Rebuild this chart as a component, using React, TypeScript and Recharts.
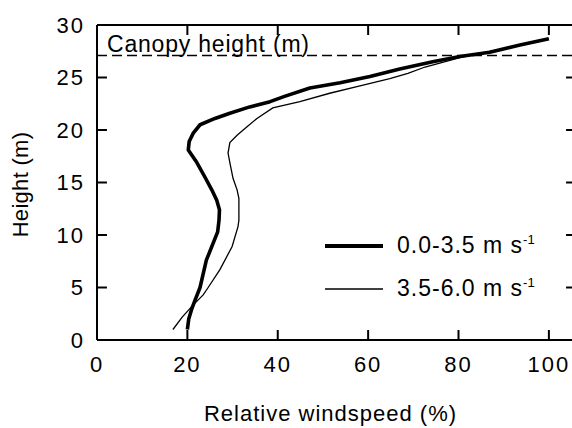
import React from 'react';
import { LineChart, Line, XAxis, YAxis, ReferenceLine, Legend } from 'recharts';

const FONT = '"Liberation Sans", Arial, sans-serif';

// profile for calm conditions (0.0-3.5 m/s)
const thickSpeed = [20.0, 20.3, 21.0, 21.7, 22.8, 24.2, 26.7, 27.0, 27.1, 26.5, 25.4, 23.9, 22.1, 20.2, 20.4, 21.3, 22.8, 26.1, 29.4, 33.8, 38.3, 41.5, 47.1, 53.8, 60.4, 67.0, 74.3, 80.3, 86.9, 93.6, 100];
const thickHeight = [1.0, 2.0, 3.0, 3.8, 5.0, 7.6, 10.3, 11.4, 12.4, 13.3, 14.3, 15.5, 16.9, 18.1, 18.9, 19.7, 20.5, 21.1, 21.6, 22.2, 22.7, 23.2, 24.0, 24.5, 25.1, 25.8, 26.5, 27.0, 27.4, 28.1, 28.7];

// profile for windier conditions (3.5-6.0 m/s)
const thinSpeed = [16.8, 18.9, 21.2, 23.5, 24.6, 27.2, 29.9, 31.2, 31.4, 31.4, 31.4, 31.0, 30.1, 29.4, 29.0, 29.4, 31.0, 33.2, 35.4, 38.9, 44.9, 51.5, 58.2, 64.8, 68.8, 72.6, 80.3, 84.7, 93.0, 99.0];
const thinHeight = [1.0, 2.2, 3.3, 4.3, 5.0, 6.7, 8.9, 10.8, 11.4, 12.4, 13.5, 14.3, 15.4, 16.9, 17.8, 18.8, 19.5, 20.3, 21.1, 22.1, 22.7, 23.5, 24.2, 24.9, 25.4, 26.0, 26.9, 27.3, 28.0, 28.6];

const xTicks = [0, 20, 40, 60, 80, 100];
const yTicks = [0, 5, 10, 15, 20, 25, 30];
const canopyHeight = 27.1;
const seriesNames = ['0.0-3.5', '3.5-6.0'];
const seriesWidths = [3.6, 1.3];

const X_MAX = 106;
const Y_MAX = 30;
// inward tick length, in axis units (about 10px each way)
const TICK_DX = 2.2;
const TICK_DY = 0.95;

const toRows = (speed: number[], height: number[]) =>
  speed.map((s, i) => ({ speed: s, height: height[i] }));

const thickData = toRows(thickSpeed, thickHeight);
const thinData = toRows(thinSpeed, thinHeight);

const tickStyle = { fill: '#000', fontSize: 22, fontFamily: FONT, letterSpacing: 2 };
const axisStyle = { stroke: '#000', strokeWidth: 2 };

// inward tick marks on all four sides of the frame, as tiny two-point series
const frameTicks = [
  ...xTicks.map((v) => toRows([v, v], [0, TICK_DY])),
  ...xTicks.map((v) => toRows([v, v], [Y_MAX, Y_MAX - TICK_DY])),
  ...yTicks.map((v) => toRows([0, TICK_DX], [v, v])),
  ...yTicks.map((v) => toRows([X_MAX, X_MAX - TICK_DX], [v, v])),
];

const XTitle = ({ viewBox }: any) => (
  <text
    x={viewBox.x + viewBox.width / 2 - 6}
    y={viewBox.y + 81}
    textAnchor="middle"
    fontSize={22}
    fontFamily={FONT}
    letterSpacing={1}
    fill="#000"
  >
    Relative windspeed (%)
  </text>
);

const YTitle = ({ viewBox }: any) => {
  const cx = 28;
  const cy = viewBox.y + viewBox.height / 2 + 2;
  return (
    <text
      x={cx}
      y={cy}
      transform={`rotate(-90 ${cx} ${cy})`}
      textAnchor="middle"
      fontSize={22}
      fontFamily={FONT}
      letterSpacing={0.3}
      fill="#000"
    >
      Height (m)
    </text>
  );
};

const CanopyLabel = ({ viewBox }: any) => (
  <text
    x={viewBox.x + 10}
    y={viewBox.y - 3}
    fontSize={23}
    fontFamily={FONT}
    letterSpacing={0.8}
    fill="#000"
  >
    Canopy height (m)
  </text>
);

const WindLegend = () => (
  <div style={{ fontFamily: FONT, fontSize: 23, letterSpacing: 1, color: '#000' }}>
    {seriesNames.map((name, i) => (
      <div key={name} style={{ display: 'flex', alignItems: 'center', height: 43 }}>
        <svg width={58} height={8} style={{ display: 'block' }}>
          <line x1={0} x2={58} y1={4} y2={4} stroke="#000" strokeWidth={seriesWidths[i] + 0.4} />
        </svg>
        <span style={{ marginLeft: 14, whiteSpace: 'nowrap' }}>
          {name} m s
          <sup style={{ fontSize: 13, lineHeight: 0, letterSpacing: 0 }}>-1</sup>
        </span>
      </div>
    ))}
  </div>
);

export default function App() {
  return (
    <div style={{ position: 'absolute', left: 0, top: 0, width: 572, height: 428, overflow: 'hidden', background: '#fff' }}>
      <LineChart width={580} height={428} margin={{ top: 25, right: 4, bottom: 0, left: 0 }}>
        <XAxis
          type="number"
          dataKey="speed"
          domain={[0, X_MAX]}
          allowDataOverflow
          ticks={xTicks}
          height={88}
          axisLine={axisStyle}
          tickLine={false}
          tickSize={0}
          tickMargin={16}
          tick={tickStyle}
          label={<XTitle />}
        />
        <YAxis
          type="number"
          domain={[0, Y_MAX]}
          allowDataOverflow
          ticks={yTicks}
          width={97}
          axisLine={axisStyle}
          tickLine={false}
          tickSize={0}
          tickMargin={12}
          tick={tickStyle}
          label={<YTitle />}
        />
        {/* frame lines on top and right */}
        <XAxis
          xAxisId="top"
          orientation="top"
          mirror
          type="number"
          dataKey="speed"
          domain={[0, X_MAX]}
          allowDataOverflow
          axisLine={axisStyle}
          tickLine={false}
          tick={false}
        />
        <YAxis
          yAxisId="right"
          orientation="right"
          mirror
          type="number"
          domain={[0, Y_MAX]}
          allowDataOverflow
          axisLine={axisStyle}
          tickLine={false}
          tick={false}
        />
        <ReferenceLine
          y={canopyHeight}
          stroke="#000"
          strokeWidth={1.5}
          strokeDasharray="10 5"
          label={<CanopyLabel />}
        />
        {frameTicks.map((seg, i) => (
          <Line
            key={`tick-${i}`}
            data={seg}
            dataKey="height"
            type="linear"
            stroke="#000"
            strokeWidth={2}
            dot={false}
            legendType="none"
            isAnimationActive={false}
          />
        ))}
        <Line
          data={thinData}
          dataKey="height"
          type="linear"
          stroke="#000"
          strokeWidth={seriesWidths[1]}
          dot={false}
          isAnimationActive={false}
        />
        <Line
          data={thickData}
          dataKey="height"
          type="linear"
          stroke="#000"
          strokeWidth={seriesWidths[0]}
          strokeLinejoin="round"
          dot={false}
          isAnimationActive={false}
        />
        <Legend
          layout="horizontal"
          align="center"
          verticalAlign="middle"
          content={<WindLegend />}
          wrapperStyle={{ position: 'absolute', left: 325, top: 224, width: 'auto', height: 'auto' }}
        />
      </LineChart>
    </div>
  );
}
